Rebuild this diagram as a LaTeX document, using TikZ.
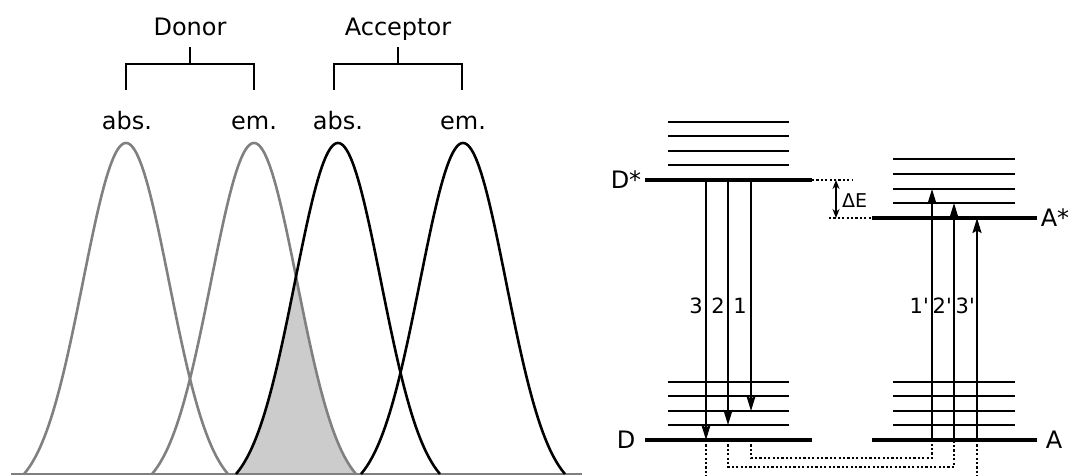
\documentclass[tikz,border=0pt]{standalone}
\usepackage{fontspec}
\setmainfont{DejaVu Sans}
\usetikzlibrary{arrows.meta, positioning}

\begin{document}
\begin{tikzpicture}[
        x=1pt, y=-1pt,
        every node/.style={inner sep=0pt},
        % bell shaped band, zero at +-102
        declare function={band(\d)=331*(exp(-((\d)*(\d))/3698)-0.060)/0.940;},
        txt/.style={font=\fontsize{24}{27}\selectfont, anchor=base},
        num/.style={font=\fontsize{21}{23}\selectfont, anchor=east},
        gcurve/.style={draw=gray, line width=2.6pt},
        bcurve/.style={draw=black, line width=2.6pt},
        bracket/.style={line width=2.8pt},
        mainlvl/.style={line width=4pt},
        vibr/.style={line width=1.8pt},
        arrow/.style={line width=2.2pt, -{Stealth[length=15pt, width=9pt, inset=2.5pt]}},
        gap/.style={line width=1.8pt, {Stealth[length=9pt, width=7pt]}-{Stealth[length=9pt, width=7pt]}},
        link/.style={line width=1.7pt, dash pattern=on 2.2pt off 2.2pt}
    ]
    \useasboundingbox (0,0) rectangle (1073,475);

    % Spectra
    \coordinate (b0) at (11,474);
    \coordinate (b1) at (582,474);
    \fill[gray!40] plot[domain=-102:-42, samples=40] ({338+\x},{474-band(\x)})
        -- plot[domain=42:102, samples=40] ({254+\x},{474-band(\x)}) -- cycle;
    \draw[gray, line width=2.2pt] (b0) -- (b1);
    \draw[gcurve] plot[domain=-102:102, samples=121] ({126+\x},{474-band(\x)});
    \draw[gcurve] plot[domain=-102:102, samples=121] ({254+\x},{474-band(\x)});
    \draw[bcurve] plot[domain=-102:102, samples=121] ({338+\x},{474-band(\x)});
    \draw[bcurve] plot[domain=-102:102, samples=121] ({463+\x},{474-band(\x)});

    % Labels
    \node[txt] (dabs) at (127,129) {abs.};
    \node[txt] (dem) at (254,129) {em.};
    \node[txt] (aabs) at (338,129) {abs.};
    \node[txt] (aem) at (463,129) {em.};
    \node[txt] (donor) at (190,35) {Donor};
    \node[txt] (acceptor) at (398,35) {Acceptor};

    % Brackets
    \draw[bracket] (126,90) |- (190,64) -| (254,90);
    \draw[bracket] (190,64) -- (190,47);
    \draw[bracket] (334,90) |- (398,64) -| (462,90);
    \draw[bracket] (398,64) -- (398,47);

    % Energy levels
    \coordinate (Dsl) at (645,180);
    \coordinate (Dsr) at (812,180);
    \coordinate (Asl) at (872,218);
    \coordinate (Asr) at (1037,218);
    \coordinate (Dl) at (645,440);
    \coordinate (Dr) at (812,440);
    \coordinate (Al) at (872,440);
    \coordinate (Ar) at (1037,440);
    \draw[mainlvl] (Dsl) -- (Dsr);
    \draw[mainlvl] (Asl) -- (Asr);
    \draw[mainlvl] (Dl) -- (Dr);
    \draw[mainlvl] (Al) -- (Ar);
    \draw[vibr] (668,122) -- (789,122) (668,136) -- (789,136)
        (668,151) -- (789,151) (668,165) -- (789,165);
    \draw[vibr] (893,159) -- (1015,159) (893,174) -- (1015,174)
        (893,189) -- (1015,189) (893,203) -- (1015,203);
    \draw[vibr] (668,382) -- (789,382) (668,396) -- (789,396)
        (668,411) -- (789,411) (668,425) -- (789,425);
    \draw[vibr] (893,382) -- (1015,382) (893,396) -- (1015,396)
        (893,411) -- (1015,411) (893,425) -- (1015,425);

    \node[txt] (Dstar) at (626,188) {D*};
    \node[txt] (Astar) at (1055,226) {A*};
    \node[txt] (D) at (626,448) {D};
    \node[txt] (A) at (1054,448) {A};

    % Delta E
    \coordinate (g1) at (853,180);
    \coordinate (g2) at (829,218);
    \draw[link] (Dsr) -- (g1);
    \draw[link] (g2) -- (Asl);
    \coordinate (e1) at (836,180);
    \coordinate (e2) at (836,218);
    \draw[gap] (e1) -- (e2);
    \node[font=\fontsize{19}{21}\selectfont, anchor=west] (dE) at (842,201) {ΔE};

    % Transitions
    \coordinate (t3) at (706,180);
    \coordinate (t2) at (728,180);
    \coordinate (t1) at (751,180);
    \coordinate (d3) at (706,440);
    \coordinate (d2) at (728,440);
    \coordinate (d1) at (751,440);
    \coordinate (a1) at (932,440);
    \coordinate (a2) at (954,440);
    \coordinate (a3) at (977,440);
    \coordinate (u1) at (932,189);
    \coordinate (u2) at (954,203);
    \coordinate (u3) at (977,218);
    \draw[arrow] (t3) -- (d3);
    \draw[arrow] (t2) -- (728,425);
    \draw[arrow] (t1) -- (751,411);
    \draw[arrow] (a1) -- (u1);
    \draw[arrow] (a2) -- (u2);
    \draw[arrow] (a3) -- (u3);

    \node[num] (n3) at (703,306) {3};
    \node[num] (n2) at (725,306) {2};
    \node[num] (n1) at (747,306) {1};
    \node[num] (m1) at (929,306) {1\textquotesingle};
    \node[num] (m2) at (952,306) {2\textquotesingle};
    \node[num] (m3) at (975,306) {3\textquotesingle};

    % Dotted links
    \draw[link] (d1) -- ++(0,18) -| (a1);
    \draw[link] (d2) -- ++(0,27) -| (a2);
    \draw[link] (d3) -- ++(0,40);
    \draw[link] (a3) -- ++(0,40);

\end{tikzpicture}
\end{document}
